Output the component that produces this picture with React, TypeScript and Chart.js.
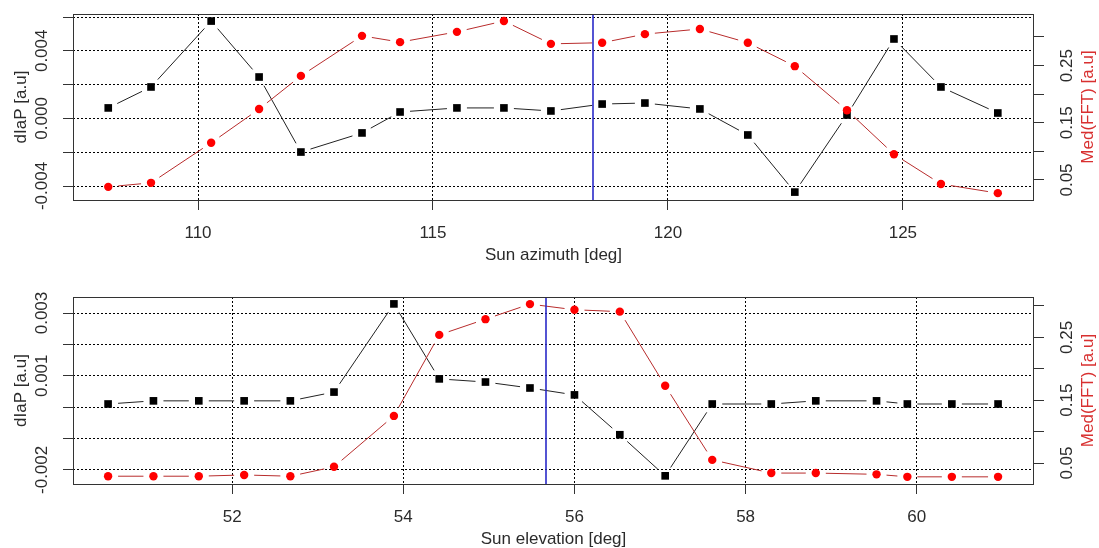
import React, { useEffect, useRef } from 'react';
import { Chart, registerables } from 'chart.js';

Chart.register(...registerables);

// ---------- Data: top panel (Sun azimuth) ----------
const azimuth = [108.09, 109.0, 110.28, 111.3, 112.19, 113.49, 114.3, 115.51, 116.51, 117.51, 118.6, 119.51, 120.68, 121.7, 122.7, 123.81, 124.81, 125.81, 127.02];
const azDiaP = [0.00062, 0.00186, 0.00576, 0.00245, -0.00199, -0.00086, 0.00038, 0.00062, 0.00062, 0.00044, 0.00085, 0.00091, 0.00056, -0.00098, -0.00436, 0.0002, 0.0047, 0.00186, 0.00032];
const azFFT = [0.038, 0.045, 0.115, 0.174, 0.232, 0.302, 0.291, 0.309, 0.328, 0.288, 0.29, 0.305, 0.314, 0.29, 0.249, 0.172, 0.095, 0.043, 0.027];
const azMarker = 118.4;
const azXTicks = [110, 115, 120, 125];
const azXLabels = ['110', '115', '120', '125'];
const azYTicks = [-0.004, -0.002, 0, 0.002, 0.004, 0.006];
const azYLabels = ['-0.004', '', '0.000', '', '0.004', ''];
const azY2Ticks = [0.05, 0.1, 0.15, 0.2, 0.25, 0.3];
const azY2Labels = ['0.05', '', '0.15', '', '0.25', ''];

// ---------- Data: bottom panel (Sun elevation) ----------
const elevation = [50.55, 51.08, 51.61, 52.14, 52.68, 53.19, 53.89, 54.42, 54.96, 55.48, 56.0, 56.53, 57.06, 57.61, 58.3, 58.82, 59.53, 59.89, 60.41, 60.95];
const elDiaP = [0.0001, 0.0002, 0.0002, 0.0002, 0.0002, 0.00048, 0.00329, 0.0009, 0.0008, 0.00061, 0.00039, -0.00088, -0.00219, 0.0001, 0.0001, 0.0002, 0.0002, 0.0001, 0.0001, 0.0001];
const elFFT = [0.029, 0.029, 0.029, 0.031, 0.029, 0.044, 0.125, 0.254, 0.279, 0.303, 0.294, 0.291, 0.173, 0.055, 0.034, 0.034, 0.032, 0.028, 0.028, 0.028];
const elMarker = 55.67;
const elXTicks = [52, 54, 56, 58, 60];
const elXLabels = ['52', '54', '56', '58', '60'];
const elYTicks = [-0.002, -0.001, 0, 0.001, 0.002, 0.003];
const elYLabels = ['-0.002', '', '', '0.001', '', '0.003'];
const elY2Ticks = [0.05, 0.1, 0.15, 0.2, 0.25, 0.3];
const elY2Labels = ['0.05', '', '0.15', '', '0.25', ''];

const FONT = "17px 'Liberation Sans', Arial, sans-serif";
const TEXT = '#2b2b2b';
const RED_TEXT = '#d83030';
const MARKER_BLUE = '#2a2ac8';

type PanelCfg = {
  x: number[];
  diap: number[];
  fft: number[];
  marker: number;
  xMin: number; xMax: number;
  yMin: number; yMax: number;
  y2Min: number; y2Max: number;
  xTicks: number[]; xLabels: string[];
  yTicks: number[]; yLabels: string[];
  y2Ticks: number[]; y2Labels: string[];
  xTitle: string;
  padTop: number;
  xAxisH: number;
};

function vText(ctx: CanvasRenderingContext2D, text: string, x: number, y: number, color: string) {
  ctx.save();
  ctx.translate(x, y);
  ctx.rotate(-Math.PI / 2);
  ctx.textAlign = 'center';
  ctx.textBaseline = 'middle';
  ctx.fillStyle = color;
  ctx.font = FONT;
  ctx.fillText(text, 0, 0);
  ctx.restore();
}

const rPlugin = {
  id: 'rstyle',
  beforeDatasetDraw(chart: any, args: any) {
    const ds = chart.data.datasets[args.index];
    const pts = args.meta.data;
    const ctx: CanvasRenderingContext2D = chart.ctx;
    const gap = 10;
    ctx.save();
    ctx.setLineDash([]);
    ctx.strokeStyle = ds.lineColor;
    ctx.lineWidth = 1;
    ctx.beginPath();
    for (let i = 0; i < pts.length - 1; i++) {
      const a = pts[i], b = pts[i + 1];
      const dx = b.x - a.x, dy = b.y - a.y;
      const d = Math.hypot(dx, dy);
      if (d <= 2 * gap) continue;
      const ux = dx / d, uy = dy / d;
      ctx.moveTo(a.x + ux * gap, a.y + uy * gap);
      ctx.lineTo(b.x - ux * gap, b.y - uy * gap);
    }
    ctx.stroke();
    ctx.restore();
  },
  afterDraw(chart: any) {
    const cfg: PanelCfg = chart.options.plugins.rstyle.cfg;
    const ctx: CanvasRenderingContext2D = chart.ctx;
    const a = chart.chartArea;
    const xs = chart.scales.x, ys = chart.scales.y, y2 = chart.scales.y2;
    ctx.save();
    ctx.setLineDash([]);
    ctx.globalAlpha = 1;
    ctx.strokeStyle = '#333';
    ctx.lineWidth = 1;
    ctx.strokeRect(Math.round(a.left) + 0.5, Math.round(a.top) + 0.5, Math.round(a.right - a.left) - 1, Math.round(a.bottom - a.top));
    // blue marker line
    const bx = Math.round(xs.getPixelForValue(cfg.marker));
    ctx.strokeStyle = MARKER_BLUE;
    ctx.lineWidth = 1.6;
    ctx.beginPath();
    ctx.moveTo(bx, a.top + 1);
    ctx.lineTo(bx, a.bottom);
    ctx.stroke();
    ctx.font = FONT;
    ctx.fillStyle = TEXT;
    ctx.textAlign = 'center';
    ctx.textBaseline = 'middle';
    cfg.xTicks.forEach((v, i) => {
      ctx.fillText(cfg.xLabels[i], xs.getPixelForValue(v), a.bottom + 33);
    });
    ctx.fillText(cfg.xTitle, (a.left + a.right) / 2, a.bottom + 55);
    ctx.restore();
    cfg.yTicks.forEach((v, i) => {
      if (cfg.yLabels[i]) vText(ctx, cfg.yLabels[i], 42, ys.getPixelForValue(v), TEXT);
    });
    cfg.y2Ticks.forEach((v, i) => {
      if (cfg.y2Labels[i]) vText(ctx, cfg.y2Labels[i], 1067, y2.getPixelForValue(v), TEXT);
    });
    const midY = (a.top + a.bottom) / 2;
    vText(ctx, 'dIaP [a.u]', 21, midY, TEXT);
    vText(ctx, 'Med(FFT) [a.u]', 1088, midY, RED_TEXT);
  },
};

function makeChart(canvas: HTMLCanvasElement, cfg: PanelCfg) {
  const gridBase = {
    color: '#000',
    lineWidth: 1,
    drawTicks: true,
    tickLength: 10,
    tickColor: '#333',
    tickWidth: 1,
  };
  return new Chart(canvas, {
    type: 'scatter',
    data: {
      datasets: [
        {
          label: 'dIaP',
          data: cfg.x.map((v, i) => ({ x: v, y: cfg.diap[i] })),
          yAxisID: 'y',
          showLine: false,
          pointStyle: 'rect',
          pointRadius: 5.4,
          pointBackgroundColor: '#000',
          pointBorderWidth: 0,
          borderColor: '#000',
          order: 2,
          lineColor: '#222',
        } as any,
        {
          label: 'Med(FFT)',
          data: cfg.x.map((v, i) => ({ x: v, y: cfg.fft[i] })),
          yAxisID: 'y2',
          showLine: false,
          pointStyle: 'circle',
          pointRadius: 4.2,
          pointBackgroundColor: '#ff0000',
          pointBorderWidth: 0,
          borderColor: '#ff0000',
          order: 1,
          lineColor: '#b82c2c',
        } as any,
      ],
    },
    options: {
      animation: false,
      responsive: false,
      devicePixelRatio: 1,
      events: [],
      layout: { padding: { top: cfg.padTop, left: 0, right: 0, bottom: 0 } },
      plugins: {
        legend: { display: false },
        tooltip: { enabled: false },
        rstyle: { cfg },
      } as any,
      scales: {
        x: {
          type: 'linear',
          position: 'bottom',
          min: cfg.xMin,
          max: cfg.xMax,
          afterBuildTicks: (s: any) => { s.ticks = cfg.xTicks.map((v) => ({ value: v })); },
          afterFit: (s: any) => { s.height = cfg.xAxisH; },
          ticks: { display: false },
          grid: gridBase,
          border: { display: false, dash: [2, 2] },
        },
        y: {
          type: 'linear',
          position: 'left',
          min: cfg.yMin,
          max: cfg.yMax,
          afterBuildTicks: (s: any) => { s.ticks = cfg.yTicks.map((v) => ({ value: v })); },
          afterFit: (s: any) => { s.width = 73; },
          ticks: { display: false },
          grid: gridBase,
          border: { display: false, dash: [2, 2] },
        },
        y2: {
          type: 'linear',
          position: 'right',
          min: cfg.y2Min,
          max: cfg.y2Max,
          afterBuildTicks: (s: any) => { s.ticks = cfg.y2Ticks.map((v) => ({ value: v })); },
          afterFit: (s: any) => { s.width = 65; },
          ticks: { display: false },
          grid: { ...gridBase, drawOnChartArea: false },
          border: { display: false },
        },
      } as any,
    },
    plugins: [rPlugin as any],
  });
}

const topCfg: PanelCfg = {
  x: azimuth, diap: azDiaP, fft: azFFT, marker: azMarker,
  xMin: 107.34, xMax: 127.79,
  yMin: -0.004828, yMax: 0.006178,
  y2Min: 0.015, y2Max: 0.3402,
  xTicks: azXTicks, xLabels: azXLabels,
  yTicks: azYTicks, yLabels: azYLabels,
  y2Ticks: azY2Ticks, y2Labels: azY2Labels,
  xTitle: 'Sun azimuth [deg]',
  padTop: 14,
  xAxisH: 74,
};

const bottomCfg: PanelCfg = {
  x: elevation, diap: elDiaP, fft: elFFT, marker: elMarker,
  xMin: 50.14, xMax: 61.37,
  yMin: -0.00245, yMax: 0.00351,
  y2Min: 0.0166, y2Max: 0.3143,
  xTicks: elXTicks, xLabels: elXLabels,
  yTicks: elYTicks, yLabels: elYLabels,
  y2Ticks: elY2Ticks, y2Labels: elY2Labels,
  xTitle: 'Sun elevation [deg]',
  padTop: 23,
  xAxisH: 64,
};

function Panel({ cfg }: { cfg: PanelCfg }) {
  const ref = useRef<HTMLCanvasElement | null>(null);
  useEffect(() => {
    if (!ref.current) return;
    const chart = makeChart(ref.current, cfg);
    return () => chart.destroy();
  }, [cfg]);
  return <canvas ref={ref} width={1099} height={274} style={{ display: 'block', width: 1099, height: 274 }} />;
}

export default function App() {
  return (
    <div style={{ position: 'fixed', left: 0, top: 0, width: 1099, height: 548, background: '#fff' }}>
      <Panel cfg={topCfg} />
      <Panel cfg={bottomCfg} />
    </div>
  );
}
